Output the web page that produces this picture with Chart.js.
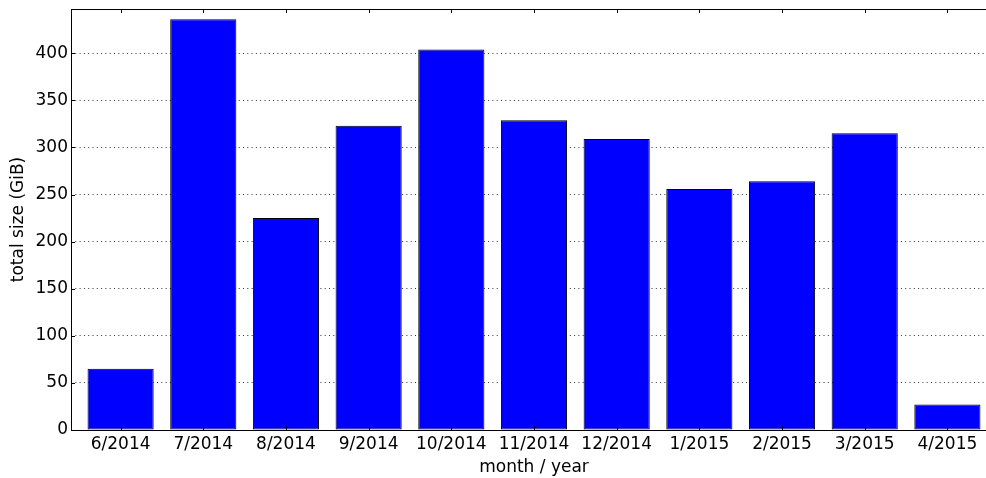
<!DOCTYPE html>
<html lang="en">
<head>
  <meta charset="UTF-8" />
  <title>total size per month</title>
  <script src="https://cdn.jsdelivr.net/npm/chart.js"></script>
  <style>
    html, body { margin: 0; padding: 0; background: #fff; overflow: hidden; }
    /* plot is a bit wider than the window, like the cropped original */
    .wrap { width: 998px; height: 478px; }
  </style>
</head>
<body>
  <div class="wrap">
    <canvas id="sizeChart" width="998" height="478"></canvas>
  </div>

  <script>
    const months = ['6/2014', '7/2014', '8/2014', '9/2014', '10/2014', '11/2014',
                    '12/2014', '1/2015', '2/2015', '3/2015', '4/2015'];
    const sizesGiB = [65, 436, 225, 323, 404, 329, 309, 256, 264, 315, 27];
    const yTicks = [0, 50, 100, 150, 200, 250, 300, 350, 400];

    const FONT = { family: '"DejaVu Sans", sans-serif', size: 17 };

    // matplotlib-like frame with inward tick marks
    const frameTicks = {
      id: 'frameTicks',
      afterDraw(chart) {
        const { ctx, chartArea: a, scales } = chart;
        const len = 4;
        ctx.save();
        ctx.strokeStyle = '#000';
        ctx.lineWidth = 1;
        ctx.beginPath();
        months.forEach((m, i) => {
          const px = Math.round(scales.x.getPixelForValue(i)) + 0.5;
          ctx.moveTo(px, a.bottom); ctx.lineTo(px, a.bottom - len);
          ctx.moveTo(px, a.top); ctx.lineTo(px, a.top + len);
        });
        yTicks.forEach(v => {
          const py = Math.round(scales.y.getPixelForValue(v)) + 0.5;
          ctx.moveTo(a.left, py); ctx.lineTo(a.left + len, py);
          ctx.moveTo(a.right, py); ctx.lineTo(a.right - len, py);
        });
        ctx.stroke();
        ctx.strokeRect(Math.round(a.left) + 0.5, Math.round(a.top) + 0.5,
                       Math.round(a.right - a.left), Math.round(a.bottom - a.top));
        ctx.restore();
      }
    };

    new Chart(document.getElementById('sizeChart'), {
      type: 'bar',
      data: {
        datasets: [{
          data: months.map((m, i) => ({ x: i, y: sizesGiB[i] })),
          backgroundColor: '#0000ff',
          borderColor: '#000',
          borderWidth: 1,
          borderSkipped: false,
          barPercentage: 0.8,
          categoryPercentage: 1
        }]
      },
      options: {
        responsive: false,
        animation: false,
        layout: { padding: { top: 9, left: 0, right: 1, bottom: 0 } },
        plugins: { legend: { display: false }, tooltip: { enabled: false } },
        scales: {
          x: {
            type: 'linear',
            offset: false,
            min: -0.6,
            max: 10.6,
            afterFit: s => {
              s.height = 48;
              s.paddingLeft = 0;
              s.paddingRight = 0;
            },
            grid: { display: false, drawTicks: false },
            border: { display: false },
            ticks: {
              stepSize: 1,
              includeBounds: false,
              autoSkip: false,
              maxRotation: 0,
              padding: 4,
              color: '#000',
              font: FONT,
              callback: v => (Number.isInteger(v) && months[v]) ? months[v] : ''
            },
            title: {
              display: true,
              text: 'month / year',
              color: '#000',
              font: FONT,
              padding: 0
            }
          },
          y: {
            min: 0,
            max: 447,
            z: 1,
            afterFit: s => {
              s.width = 71;
              s.paddingTop = 0;
              s.paddingBottom = 0;
            },
            border: { display: false, dash: [1, 3.3] },
            grid: {
              color: 'rgba(0,0,0,0.8)',
              lineWidth: 1,
              drawTicks: false
            },
            ticks: {
              stepSize: 50,
              includeBounds: false,
              padding: 3,
              color: '#000',
              font: FONT
            },
            title: {
              display: true,
              text: 'total size (GiB)',
              color: '#000',
              font: FONT,
              padding: { top: 8, bottom: 0 }
            }
          }
        }
      },
      plugins: [frameTicks]
    });
  </script>
</body>
</html>
